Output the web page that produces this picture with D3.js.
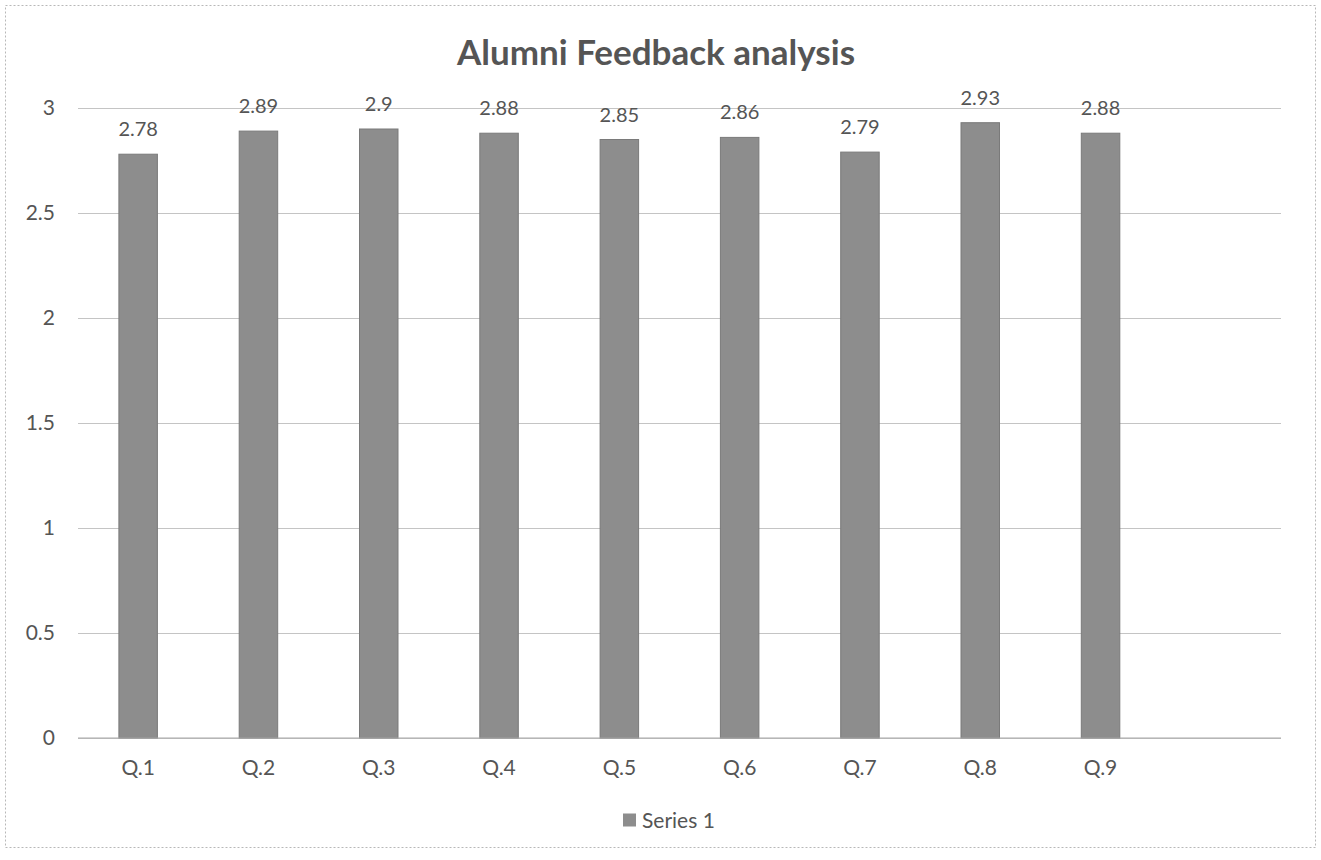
<!DOCTYPE html>
<html>
<head>
<meta charset="utf-8">
<script src="https://cdn.jsdelivr.net/npm/d3@7"></script>
<style>
  body { margin: 0; background: #fff; }
  svg { display: block; font-family: Lato, 'Open Sans', sans-serif; }
</style>
</head>
<body>
<div id="chart"></div>
<script>
// Chart data
const categories = ['Q.1', 'Q.2', 'Q.3', 'Q.4', 'Q.5', 'Q.6', 'Q.7', 'Q.8', 'Q.9', ''];
const values = [2.78, 2.89, 2.9, 2.88, 2.85, 2.86, 2.79, 2.93, 2.88];
const yTicks = [0, 0.5, 1, 1.5, 2, 2.5, 3];
const seriesName = 'Series 1';
const chartTitle = 'Alumni Feedback analysis';

let config = {
  w: 1321,
  h: 860,
  margin: { top: 108, right: 40, bottom: 122, left: 78 },
  barColor: '#8d8d8d',
  textColor: '#555555',
  gridColor: '#c4c4c4',
};

const plotW = config.w - config.margin.left - config.margin.right;
const plotH = config.h - config.margin.top - config.margin.bottom;

let svg = d3
  .select('#chart')
  .append('svg')
  .attr('width', config.w)
  .attr('height', config.h);

// Outer chart border (dotted, like the scan)
svg
  .append('rect')
  .attr('x', 5.5)
  .attr('y', 5.5)
  .attr('width', 1310)
  .attr('height', 842)
  .style('fill', 'none')
  .style('stroke', '#b8b8b8')
  .style('stroke-dasharray', '2,2');

// Title
svg
  .append('text')
  .attr('x', 656)
  .attr('y', 65)
  .attr('text-anchor', 'middle')
  .attr('font-size', 35)
  .attr('font-weight', 'bold')
  .style('fill', config.textColor)
  .text(chartTitle);

let g = svg
  .append('g')
  .attr('transform', `translate(${config.margin.left},${config.margin.top})`);

let x = d3
  .scaleBand()
  .domain(categories.map((d, i) => i))
  .range([0, plotW])
  .paddingInner(0.68)
  .paddingOuter(0.34);

let y = d3
  .scaleLinear()
  .domain([0, 3])
  .range([plotH, 0]);

// Gridlines
g
  .append('g')
  .attr('class', 'grid')
  .call(d3.axisLeft(y).tickValues(yTicks).tickSize(-plotW).tickFormat(''))
  .call((s) => s.select('.domain').remove())
  .selectAll('line')
  .style('stroke', config.gridColor);

// Y labels
g
  .append('g')
  .call(d3.axisLeft(y).tickValues(yTicks).tickSize(0).tickPadding(23).tickFormat(d3.format('')))
  .call((s) => s.select('.domain').remove())
  .selectAll('text')
  .attr('font-size', 21)
  .style('font-family', 'Lato, sans-serif')
  .style('fill', config.textColor);

// Bars
g
  .selectAll('rect.bar')
  .data(values)
  .enter()
  .append('rect')
  .attr('class', 'bar')
  .attr('x', (d, i) => x(i))
  .attr('y', (d) => y(d))
  .attr('width', x.bandwidth())
  .attr('height', (d) => plotH - y(d))
  .style('fill', config.barColor)
  .style('stroke', '#7a7a7a')
  .style('stroke-width', 1);

// Data labels
g
  .selectAll('text.lbl')
  .data(values)
  .enter()
  .append('text')
  .attr('class', 'lbl')
  .attr('x', (d, i) => x(i) + x.bandwidth() / 2)
  .attr('y', (d) => y(d) - 18)
  .attr('text-anchor', 'middle')
  .attr('font-size', 20)
  .style('fill', config.textColor)
  .text((d) => d);

// X axis line
g
  .append('line')
  .attr('x1', 0)
  .attr('x2', plotW)
  .attr('y1', plotH)
  .attr('y2', plotH)
  .style('stroke', '#a8a8a8');

// X labels
g
  .append('g')
  .attr('transform', `translate(0,${plotH})`)
  .call(d3.axisBottom(x).tickSize(0).tickPadding(22).tickFormat((i) => categories[i]))
  .call((s) => s.select('.domain').remove())
  .selectAll('text')
  .attr('font-size', 21)
  .style('font-family', 'Lato, sans-serif')
  .style('fill', config.textColor);

// Legend
let legend = svg.append('g').attr('transform', 'translate(623,820)');

legend
  .append('rect')
  .attr('x', 0)
  .attr('y', -6.5)
  .attr('width', 13)
  .attr('height', 13)
  .style('fill', config.barColor);

legend
  .append('text')
  .attr('x', 19)
  .attr('y', 7.5)
  .attr('font-size', 21)
  .style('fill', config.textColor)
  .text(seriesName);
</script>
</body>
</html>
